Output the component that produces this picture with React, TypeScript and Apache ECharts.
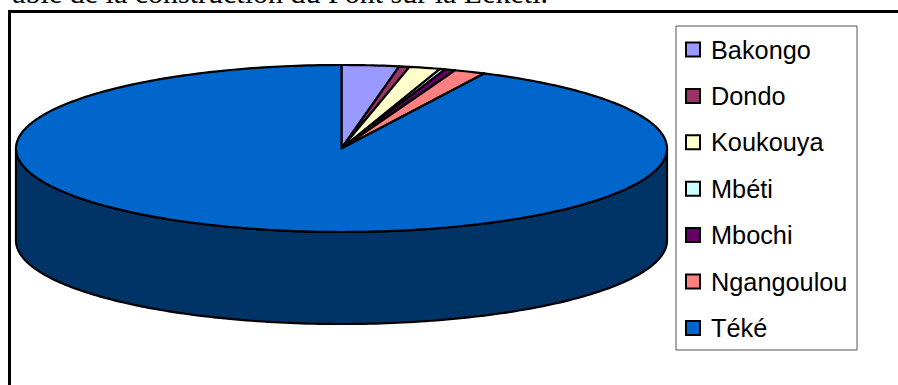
import React, { useEffect, useRef } from "react";
import * as echarts from "echarts";

const categories = ["Bakongo", "Dondo", "Koukouya", "Mbéti", "Mbochi", "Ngangoulou", "Téké"];
const values = [11, 2, 6, 1, 2, 6, 360];
const topColors = ["#9999FF", "#993366", "#FFFFCC", "#CCFFFF", "#660066", "#FF8080", "#0066CC"];
const sideColors = ["#4C4C80", "#4C1933", "#808066", "#668080", "#330033", "#804040", "#003366"];
const caption = "able de la construction du Pont sur la Léketi.";

const CX = 341.5;
const CY = 148.5;
const RX = 325.5;
const RY = 83.5;
const DEPTH = 92;

export default function App() {
  const ref = useRef<HTMLDivElement>(null);

  useEffect(() => {
    if (!ref.current) return;
    const chart = echarts.init(ref.current, undefined, { renderer: "svg" });
    const total = values.reduce((a, b) => a + b, 0);

    const pt = (t: number, dy = 0) => [CX + RX * Math.sin(t), CY - RY * Math.cos(t) + dy];

    const series = categories.map((name, i) => ({
      type: "custom",
      name,
      coordinateSystem: "none",
      silent: true,
      itemStyle: { color: topColors[i] },
      data: [[values[i]]],
      renderItem: () => {
        const before = values.slice(0, i).reduce((a, b) => a + b, 0);
        const start = (before / total) * Math.PI * 2;
        const end = ((before + values[i]) / total) * Math.PI * 2;
        const children: any[] = [];
        const n = Math.max(2, Math.ceil(((end - start) * 180) / Math.PI));
        const topPts: number[][] = [[CX, CY]];
        for (let k = 0; k <= n; k++) topPts.push(pt(start + ((end - start) * k) / n));
        children.push({
          type: "polygon",
          z2: 10,
          shape: { points: topPts },
          style: { fill: topColors[i], stroke: "#000", lineWidth: 2.2, lineJoin: "round" },
        });
        const s = Math.max(start, Math.PI / 2);
        const e = Math.min(end, (Math.PI * 3) / 2);
        if (e > s) {
          const m = Math.max(2, Math.ceil(((e - s) * 180) / Math.PI));
          const upper: number[][] = [];
          const lower: number[][] = [];
          for (let k = 0; k <= m; k++) {
            const t = s + ((e - s) * k) / m;
            upper.push(pt(t));
            lower.push(pt(t, DEPTH));
          }
          children.push({
            type: "polygon",
            z2: 1,
            shape: { points: upper.concat(lower.reverse()) },
            style: { fill: sideColors[i], stroke: "#000", lineWidth: 2.2, lineJoin: "round" },
          });
        }
        return { type: "group", children };
      },
    }));

    chart.setOption({
      animation: false,
      backgroundColor: "#fff",
      legend: {
        orient: "vertical",
        left: 685,
        top: 37,
        padding: 0,
        itemGap: 21.4,
        itemWidth: 14,
        itemHeight: 14,
        icon: "rect",
        selectedMode: false,
        data: categories,
        itemStyle: { borderColor: "#000", borderWidth: 2 },
        textStyle: {
          fontFamily: "Liberation Sans, Arial, sans-serif",
          fontSize: 25.3,
          lineHeight: 24,
          color: "#000",
          padding: [0, 0, 0, 6],
        },
      },
      graphic: [
        {
          type: "text",
          right: 898 - 548,
          top: -23,
          style: {
            text: caption,
            font: "30px 'Liberation Serif', 'Times New Roman', serif",
            fill: "#000",
          },
        },
        {
          type: "rect",
          shape: { x: 9.5, y: 11.5, width: 1000, height: 500 },
          style: { fill: "none", stroke: "#000", lineWidth: 3 },
          silent: true,
        },
        {
          type: "rect",
          shape: { x: 676, y: 26, width: 181, height: 324 },
          style: { fill: "none", stroke: "#555", lineWidth: 1 },
          silent: true,
        },
      ],
      series,
    });
    return () => chart.dispose();
  }, []);

  return (
    <div
      ref={ref}
      style={{ position: "fixed", left: 0, top: 0, width: 898, height: 385, background: "#fff" }}
    />
  );
}
